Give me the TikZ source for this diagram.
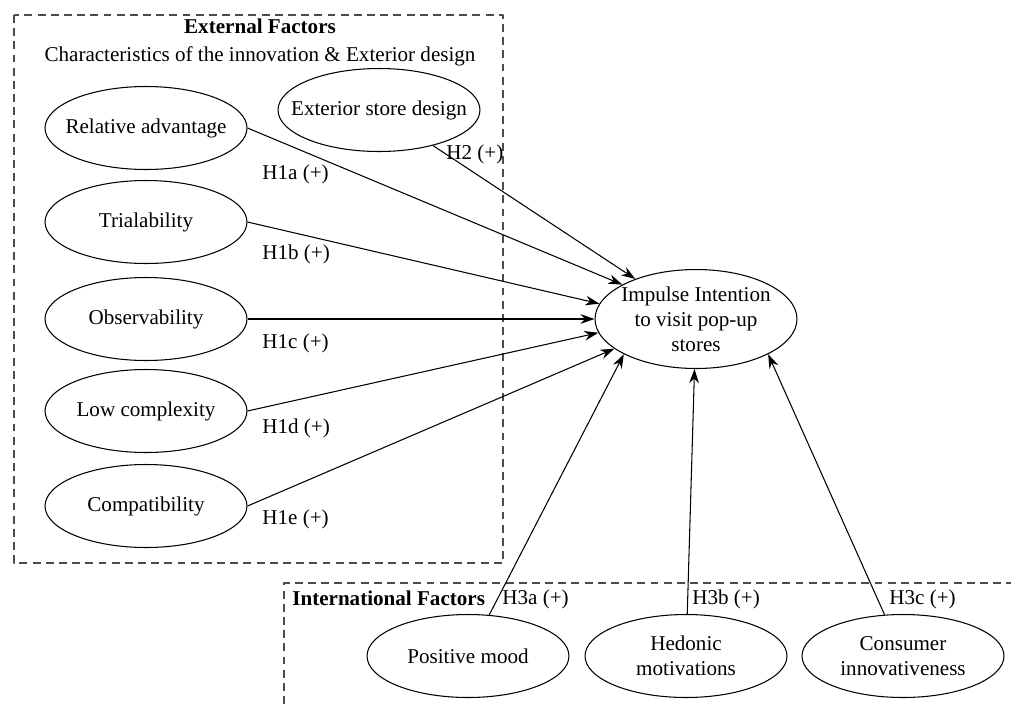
\documentclass[tikz,border=0pt]{standalone}
\usepackage{fontspec}
\setmainfont{Liberation Serif}
\usetikzlibrary{shapes,arrows.meta}
\tikzset{factor/.style={
            draw,
            ellipse,
            line width=0.6pt,
            inner xsep=-10pt,
            inner ysep=0pt,
            minimum width=4.04cm,
            minimum height=1.66cm,
            align=center
        },
        outcome/.style={
            factor,
            minimum height=1.98cm
        },
        groupbox/.style={
            draw=black!70,
            line width=0.6pt,
            dash pattern=on 4.5pt off 3pt
        },
        hyp/.style={
            anchor=west,
            inner sep=0pt
        },
        link/.style={
            ->,
            >={Stealth[length=8pt,width=5.5pt]},
            line width=0.6pt
        }
    }
\begin{document}
\begin{tikzpicture}[x=0.02cm,y=-0.02cm,line join=round,font=\fontsize{12}{14.2}\selectfont]
\useasboundingbox (0,0) rectangle (1011,704);
\draw[groupbox] (14,15) rectangle (503,563);
\draw[groupbox] (284,704) -- (284,583) -- (1011,583);
\node (exttitle) at (260,26) {\textbf{External Factors}};
\node (extsub) at (260,56) {Characteristics of the innovation \& Exterior design};
\node[hyp] (inttitle) at (292,598) {\textbf{International Factors}};
\node[factor] (rel) at (146,128) {Relative advantage};
\node[factor] (trial) at (146,222) {Trialability};
\node[factor] (obs) at (146,319) {Observability};
\node[factor] (lowc) at (146,411) {Low complexity};
\node[factor] (compat) at (146,506) {Compatibility};
\node[factor] (exd) at (379,110) {Exterior store design};
\node[outcome] (imp) at (696,319) {Impulse Intention\\to visit pop-up\\stores};
\node[factor] (mood) at (468,656) {Positive mood};
\node[factor] (hed) at (686,656) {Hedonic\\motivations};
\node[factor] (cons) at (903,656) {Consumer\\innovativeness};
\draw[link] (rel.east) -- (imp.155);
\draw[link] (trial.east) -- (imp.171);
\draw[link] (obs) -- (imp);
\draw[link] (lowc.east) -- (imp.188);
\draw[link] (compat.east) -- (imp.200);
\draw[link] (exd) -- (imp);
\draw[link] (mood) -- (imp.206);
\draw[link] (hed) -- (imp);
\draw[link] (cons) -- (imp.334);
\node[hyp] (h1a) at (262,174) {H1a (+)};
\node[hyp] (h1b) at (262,254) {H1b (+)};
\node[hyp] (h1c) at (262,343) {H1c (+)};
\node[hyp] (h1d) at (262,428) {H1d (+)};
\node[hyp] (h1e) at (262,519) {H1e (+)};
\node[hyp] (h2) at (446,154) {H2 (+)};
\node[hyp] (h3a) at (502,599) {H3a (+)};
\node[hyp] (h3b) at (692,599) {H3b (+)};
\node[hyp] (h3c) at (889,599) {H3c (+)};
\end{tikzpicture}
\end{document}
